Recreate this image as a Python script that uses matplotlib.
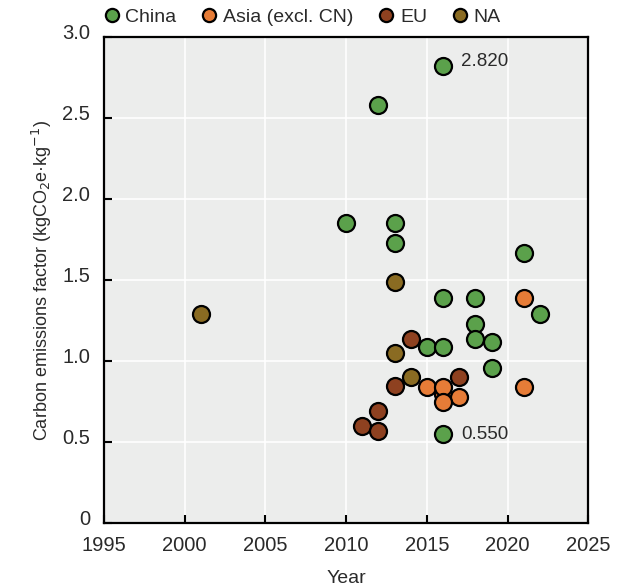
import matplotlib
matplotlib.use('Agg')
from matplotlib import pyplot as plt
from matplotlib.lines import Line2D
from matplotlib.transforms import ScaledTranslation

plt.rcParams['font.family'] = ['Liberation Sans', 'DejaVu Sans']

# data
china_year = [2016, 2012, 2010, 2013, 2013, 2021, 2016, 2018, 2022, 2018, 2018, 2019, 2015, 2016, 2019, 2016]
china_val = [2.82, 2.58, 1.85, 1.85, 1.73, 1.67, 1.39, 1.39, 1.29, 1.23, 1.14, 1.12, 1.09, 1.09, 0.96, 0.55]

asia_year = [2016, 2021, 2015, 2016, 2021, 2017, 2016]
asia_val = [0.80, 1.39, 0.84, 0.84, 0.84, 0.78, 0.75]

eu_year = [2014, 2017, 2013, 2012, 2011, 2012]
eu_val = [1.14, 0.90, 0.85, 0.69, 0.60, 0.57]

na_year = [2001, 2013, 2013, 2014]
na_val = [1.29, 1.49, 1.05, 0.90]

labels = ['China', 'Asia (excl. CN)', 'EU', 'NA']
colors = ['#5ba14b', '#e67c37', '#8e4120', '#8a6b22']
txt = '#2a2a2a'

fig = plt.figure(figsize=(6.21, 5.88), dpi=100)
ax = fig.add_axes([0.1675, 0.11, 0.78, 0.827])
ax.set_facecolor('#ecedec')

series = [(china_year, china_val), (asia_year, asia_val), (eu_year, eu_val), (na_year, na_val)]
for (xs, ys), c in zip(series, colors):
    ax.scatter(xs, ys, s=150, color=c, edgecolor='black', linewidth=1.6, zorder=3)

# min / max labels
ax.text(2017.1, 2.85, '2.820', fontsize=13.5, color=txt, va='center', ha='left')
ax.text(2017.1, 0.55, '0.550', fontsize=13.5, color=txt, va='center', ha='left')

ax.set_xlim(1995, 2025)
ax.set_ylim(0, 3.0)
ax.set_xticks(range(1995, 2026, 5))
ax.set_yticks([0, 0.5, 1.0, 1.5, 2.0, 2.5, 3.0])
ax.set_yticklabels(['0', '0.5', '1.0', '1.5', '2.0', '2.5', '3.0'])
ax.grid(True, color='white', linewidth=1.2, zorder=0)
ax.set_axisbelow(True)

ax.tick_params(direction='in', length=6, width=1.5, labelsize=14.5, colors='black')
ax.tick_params(axis='x', pad=9, labelcolor=txt)
ax.tick_params(axis='y', pad=10, labelcolor=txt)
# y labels sit a little above their ticks
for lab in ax.get_yticklabels():
    lab.set_transform(lab.get_transform() + ScaledTranslation(0, 4 / 72, fig.dpi_scale_trans))
for s in ax.spines.values():
    s.set_linewidth(1.6)

ax.set_xlabel('Year', fontsize=14, color=txt, labelpad=11)
ax.set_ylabel('Carbon emissions factor (kgCO$_2$e·kg$^{-1}$)', fontsize=13, color=txt, labelpad=6)

handles = [Line2D([], [], marker='o', linestyle='', markersize=9.5, markerfacecolor=c,
                  markeredgecolor='black', markeredgewidth=1.6) for c in colors]
fig.legend(handles, labels, loc='upper left', bbox_to_anchor=(0.139, 1.015), ncol=4,
           frameon=False, fontsize=14, handlelength=0.8, handletextpad=0.3,
           columnspacing=1.3, labelcolor=txt)

fig.savefig('out.png', dpi=100)
